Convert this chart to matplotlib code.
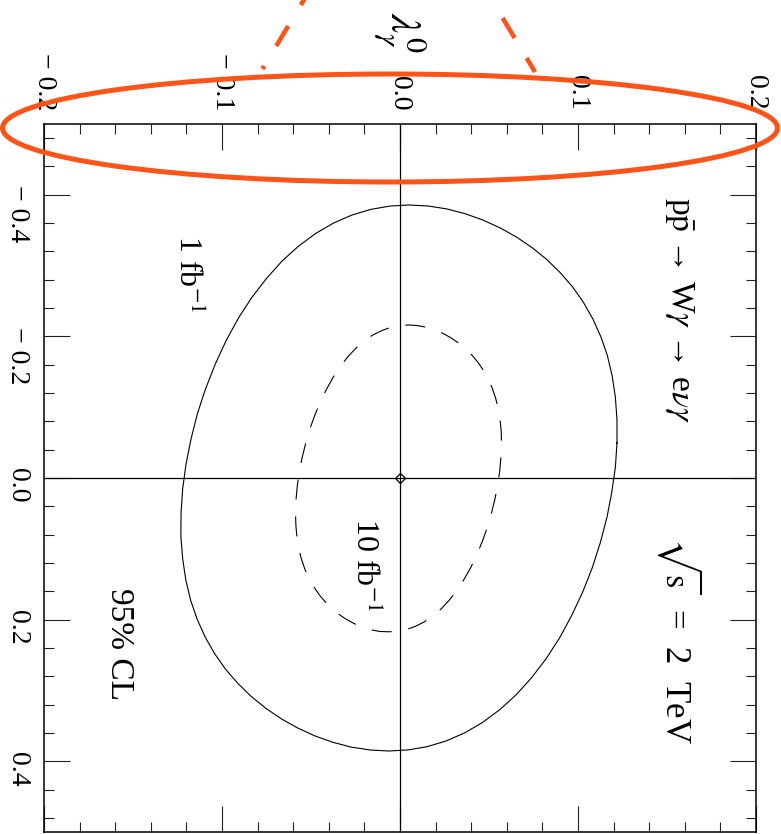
import matplotlib
matplotlib.use("Agg")
import matplotlib.pyplot as plt
from matplotlib.patches import Ellipse
from matplotlib.ticker import MultipleLocator

plt.rcParams['font.family'] = ['Liberation Serif', 'DejaVu Serif']
plt.rcParams['mathtext.fontset'] = 'stix'
plt.rcParams['lines.scale_dashes'] = False

# 95% CL contours (lambda_gamma^0 , delta kappa_gamma)
lam_1fb = [0.1219, 0.1210, 0.1190, 0.1163, 0.1126, 0.1081, 0.1027, 0.0965, 0.0897,
           0.0821, 0.0739, 0.0651, 0.0558, 0.0461, 0.0361, 0.0257, 0.0152, 0.0045,
           -0.0062, -0.0168, -0.0274, -0.0377, -0.0478, -0.0574, -0.0667, -0.0754, -0.0836,
           -0.0911, -0.0980, -0.1041, -0.1094, -0.1139, -0.1176, -0.1203, -0.1221, -0.1231,
           -0.1230, -0.1221, -0.1202, -0.1174, -0.1138, -0.1092, -0.1038, -0.0977, -0.0908,
           -0.0832, -0.0749, -0.0662, -0.0569, -0.0472, -0.0372, -0.0268, -0.0162, -0.0056,
           0.0051, 0.0157, 0.0262, 0.0366, 0.0466, 0.0563, 0.0656, 0.0743, 0.0825,
           0.0900, 0.0969, 0.1030, 0.1083, 0.1128, 0.1165, 0.1192, 0.1210, 0.1219]
dk_1fb = [-0.0494, -0.0153, 0.0198, 0.0552, 0.0909, 0.1262, 0.1607, 0.1940, 0.2257,
          0.2552, 0.2822, 0.3066, 0.3277, 0.3457, 0.3603, 0.3716, 0.3795, 0.3841,
          0.3856, 0.3842, 0.3801, 0.3733, 0.3643, 0.3532, 0.3401, 0.3252, 0.3085,
          0.2901, 0.2701, 0.2483, 0.2249, 0.1998, 0.1729, 0.1443, 0.1141, 0.0825,
          0.0494, 0.0153, -0.0198, -0.0552, -0.0910, -0.1262, -0.1607, -0.1940, -0.2257,
          -0.2552, -0.2822, -0.3066, -0.3277, -0.3457, -0.3603, -0.3716, -0.3795, -0.3841,
          -0.3856, -0.3842, -0.3801, -0.3733, -0.3643, -0.3532, -0.3401, -0.3252, -0.3085,
          -0.2901, -0.2701, -0.2483, -0.2249, -0.1998, -0.1729, -0.1443, -0.1141, -0.0825]

lam_10fb = [0.0567, 0.0560, 0.0549, 0.0533, 0.0513, 0.0490, 0.0462, 0.0431, 0.0397,
            0.0359, 0.0319, 0.0276, 0.0231, 0.0184, 0.0136, 0.0086, 0.0036, -0.0014,
            -0.0065, -0.0115, -0.0163, -0.0212, -0.0258, -0.0303, -0.0345, -0.0385, -0.0421,
            -0.0455, -0.0485, -0.0512, -0.0535, -0.0554, -0.0569, -0.0579, -0.0585, -0.0587,
            -0.0584, -0.0577, -0.0566, -0.0550, -0.0530, -0.0507, -0.0479, -0.0448, -0.0413,
            -0.0376, -0.0335, -0.0293, -0.0248, -0.0201, -0.0153, -0.0103, -0.0053, -0.0003,
            0.0048, 0.0098, 0.0147, 0.0195, 0.0242, 0.0286, 0.0328, 0.0368, 0.0405,
            0.0439, 0.0469, 0.0496, 0.0518, 0.0537, 0.0552, 0.0562, 0.0569, 0.0570]
dk_10fb = [-0.0290, -0.0097, 0.0100, 0.0301, 0.0503, 0.0702, 0.0898, 0.1088, 0.1267,
           0.1435, 0.1589, 0.1727, 0.1848, 0.1950, 0.2033, 0.2096, 0.2141, 0.2167,
           0.2172, 0.2167, 0.2144, 0.2106, 0.2056, 0.1994, 0.1922, 0.1839, 0.1747,
           0.1645, 0.1534, 0.1414, 0.1284, 0.1144, 0.0995, 0.0835, 0.0667, 0.0489,
           0.0304, 0.0111, -0.0086, -0.0287, -0.0489, -0.0688, -0.0884, -0.1074, -0.1253,
           -0.1421, -0.1575, -0.1713, -0.1833, -0.1936, -0.2019, -0.2082, -0.2127, -0.2153,
           -0.2161, -0.2153, -0.2130, -0.2092, -0.2042, -0.1980, -0.1908, -0.1825, -0.1733,
           -0.1631, -0.1520, -0.1400, -0.1270, -0.1130, -0.0980, -0.0821, -0.0653, -0.0475]

sm_point = [0.0, 0.0]

lam_ticks = [-0.2, -0.1, 0.0, 0.1, 0.2]
lam_labels = ['\u2212 0.2', '\u2212 0.1', '0.0', '0.1', '0.2']
dk_ticks = [-0.4, -0.2, 0.0, 0.2, 0.4]
dk_labels = ['\u2212 0.4', '\u2212 0.2', '0.0', '0.2', '0.4']

W, H = 781, 834
fig = plt.figure(figsize=(W / 100, H / 100), dpi=100)
ax = fig.add_axes([44 / W, 2 / H, 712 / W, 708 / H])
ax.set_xlim(-0.2, 0.2)
ax.set_ylim(0.5, -0.5)

ax.axhline(0, color='k', lw=0.9)
ax.axvline(0, color='k', lw=0.9)
ax.plot(lam_1fb + lam_1fb[:1], dk_1fb + dk_1fb[:1], color='k', lw=0.8)
ax.plot(lam_10fb + lam_10fb[:1], dk_10fb + dk_10fb[:1], color='k', lw=0.8,
        dashes=(14.4, 12.2))
ax.plot([sm_point[0]], [sm_point[1]], marker='D', ms=5.6, mfc='none', mec='k', mew=0.9)

ax.set_xticks(lam_ticks, lam_labels)
ax.set_yticks(dk_ticks, dk_labels)
ax.xaxis.set_minor_locator(MultipleLocator(0.02))
ax.yaxis.set_minor_locator(MultipleLocator(0.04))
ax.tick_params(which='both', direction='in', top=True, bottom=True, left=True, right=True,
               labeltop=True, labelbottom=False, labelleft=True, labelright=False,
               width=0.8, color='#222222')
ax.tick_params(which='major', length=18.7, labelsize=20, pad=10, labelrotation=-90)
ax.tick_params(which='minor', length=7.2)
for sp in ax.spines.values():
    sp.set_linewidth(1.1)

kw = dict(rotation=-90, ha='center', va='center')
ax.text(0.1573, -0.237, r'p$\bar{\mathrm{p}}$ → W$\gamma$ → e$\nu\gamma$',
        fontsize=24, **kw)
ax.text(0.157, 0.229, r'$\sqrt{\mathrm{s}}$  =  2  TeV', fontsize=25, **kw)
ax.text(-0.1194, -0.289, r'1 fb$^{-1}$', fontsize=23, **kw)
ax.text(-0.0197, 0.1229, r'10 fb$^{-1}$', fontsize=23, **kw)
ax.text(-0.158, 0.234, '95% CL', fontsize=24, **kw)
fig.text(400 / W, 1 - 33 / H, r'$\lambda_\gamma^0$', fontsize=31, **kw)

# orange highlight drawn over the scan (pixel coordinates of the overlay)
orange = '#ff5419'
ov = fig.add_axes([0, 0, 1, 1])
ov.set_xlim(0, W)
ov.set_ylim(H, 0)
ov.axis('off')
ov.add_patch(Ellipse((390, 128), 775, 108, fill=False, ec=orange, lw=3.6))
left_dashes = [(-5, 5), (26, 46), (66, 69)]
right_dashes = [(18, 38), (58, 72)]
for y0, y1 in left_dashes:
    ov.plot([263 + 0.6 * (68 - y0), 263 + 0.6 * (68 - y1)], [y0, y1],
            color=orange, lw=3.3, solid_capstyle='butt')
for y0, y1 in right_dashes:
    ov.plot([535 - 0.6 * (72 - y0), 535 - 0.6 * (72 - y1)], [y0, y1],
            color=orange, lw=3.3, solid_capstyle='butt')

fig.savefig('out.png', dpi=100)
